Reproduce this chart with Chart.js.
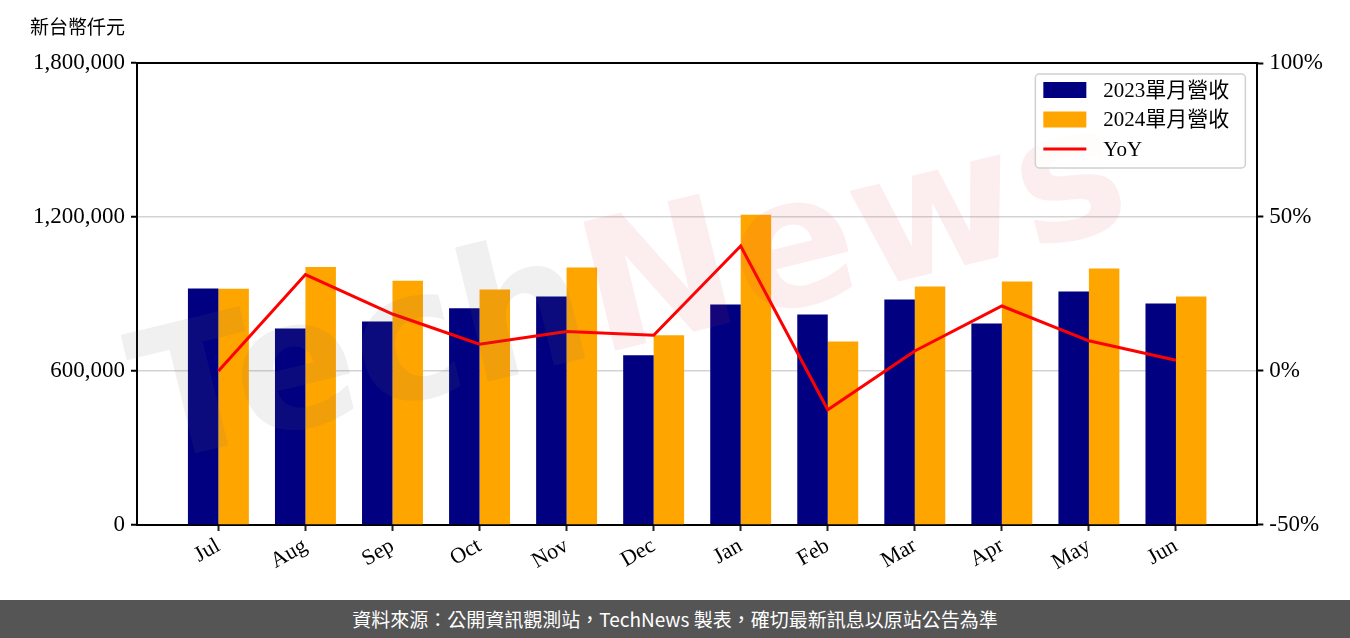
<!DOCTYPE html>
<html>
<head>
<meta charset="utf-8">
<script src="https://cdn.jsdelivr.net/npm/chart.js@4"></script>
<style>
  html, body { margin: 0; padding: 0; background: #fff; }
  #wrap { width: 1350px; height: 600px; position: relative; }
  #footer {
    width: 1350px; height: 38px; background: #555555; color: #fff;
    font-family: 'Noto Sans CJK TC', sans-serif; font-size: 19px;
    line-height: 38px; text-align: center;
  }
</style>
</head>
<body>
<div id="wrap"><canvas id="revChart" width="1350" height="600"></canvas></div>
<div id="footer">資料來源：公開資訊觀測站，TechNews 製表，確切最新訊息以原站公告為準</div>
<script>
// Chart data
const months = ['Jul', 'Aug', 'Sep', 'Oct', 'Nov', 'Dec', 'Jan', 'Feb', 'Mar', 'Apr', 'May', 'Jun'];
const rev2023 = [921000, 766000, 793000, 844000, 890000, 661000, 859000, 820000, 879000, 785000, 910000, 863000];
const rev2024 = [920000, 1005000, 952000, 917000, 1003000, 739000, 1209000, 715000, 929000, 949000, 999000, 890000];
const yoy = [0.0, 31.3, 18.5, 8.7, 12.8, 11.6, 40.6, -12.6, 6.5, 21.1, 9.8, 3.5];
const leftTicks = [0, 600000, 1200000, 1800000];
const rightTicks = [-50, 0, 50, 100];

const serif = "'Liberation Serif', 'Noto Sans CJK TC', serif";
Chart.defaults.color = '#000';

const toPoints = arr => arr.map((v, i) => ({ x: i, y: v }));

// unit label, top frame line, legend box and watermark
const extras = {
    id: 'extras',
    afterDatasetsDraw(chart) {
        const { ctx, chartArea } = chart;
        ctx.save();
        ctx.translate(chartArea.left + 495, chartArea.top + 235);
        ctx.rotate(-0.24);
        ctx.font = "bold 182px 'DejaVu Sans'";
        ctx.textBaseline = 'middle';
        const w1 = ctx.measureText('Tech').width;
        const w2 = ctx.measureText('News').width;
        const x0 = -(w1 + w2) / 2;
        ctx.fillStyle = 'rgba(110, 110, 110, 0.10)';
        ctx.fillText('Tech', x0, 0);
        ctx.fillStyle = 'rgba(220, 60, 80, 0.09)';
        ctx.fillText('News', x0 + w1, 0);
        ctx.restore();
    },
    afterDraw(chart) {
        const { ctx, chartArea } = chart;
        ctx.save();
        // top frame
        ctx.strokeStyle = '#000';
        ctx.lineWidth = 2;
        ctx.beginPath();
        ctx.moveTo(chartArea.left - 1, chartArea.top);
        ctx.lineTo(chartArea.right + 1, chartArea.top);
        ctx.stroke();

        // unit
        ctx.font = "19px 'Noto Sans CJK TC'";
        ctx.fillStyle = '#000';
        ctx.textBaseline = 'middle';
        ctx.fillText('新台幣仟元', 30, 27);

        // legend
        const lx = chartArea.right - 222, ly = chartArea.top + 11;
        const lw = 210, lh = 94;
        ctx.fillStyle = 'rgba(255,255,255,0.8)';
        ctx.strokeStyle = '#d0d0d0';
        ctx.lineWidth = 1.5;
        ctx.beginPath();
        ctx.roundRect(lx, ly, lw, lh, 4);
        ctx.fill();
        ctx.stroke();
        ctx.font = '21px ' + serif;
        chart.data.datasets.forEach((ds, i) => {
            const cy = ly + 16 + i * 29.5;
            if (ds.type === 'line') {
                ctx.strokeStyle = ds.borderColor;
                ctx.lineWidth = 3;
                ctx.beginPath();
                ctx.moveTo(lx + 8, cy);
                ctx.lineTo(lx + 51, cy);
                ctx.stroke();
            } else {
                ctx.fillStyle = ds.backgroundColor;
                ctx.fillRect(lx + 8, cy - 8, 43, 16);
            }
            ctx.fillStyle = '#000';
            ctx.fillText(ds.label, lx + 68, cy + 1);
        });
        ctx.restore();
    }
};

new Chart(document.getElementById('revChart'), {
    type: 'bar',
    data: {
        datasets: [
            {
                label: '2023單月營收',
                data: toPoints(rev2023),
                backgroundColor: '#000080',
                yAxisID: 'y',
                order: 2
            },
            {
                label: '2024單月營收',
                data: toPoints(rev2024),
                backgroundColor: '#FFA500',
                yAxisID: 'y',
                order: 2
            },
            {
                type: 'line',
                label: 'YoY',
                data: toPoints(yoy),
                borderColor: '#FF0000',
                borderWidth: 3,
                pointRadius: 0,
                tension: 0,
                yAxisID: 'y1',
                order: 1
            }
        ]
    },
    options: {
        responsive: false,
        animation: false,
        categoryPercentage: 0.7,
        barPercentage: 1.0,
        layout: { padding: { left: 27, right: 21, top: 63, bottom: 22 } },
        plugins: {
            legend: { display: false },
            tooltip: { enabled: false }
        },
        scales: {
            x: {
                type: 'linear',
                offset: false,
                min: -0.935,
                max: 11.935,
                afterBuildTicks: scale => {
                    scale.ticks = months.map((m, i) => ({ value: i }));
                },
                ticks: {
                    callback: v => months[v],
                    font: { family: serif, size: 22 },
                    minRotation: 30,
                    maxRotation: 30,
                    padding: 2
                },
                grid: {
                    offset: false,
                    drawOnChartArea: false,
                    tickLength: 6,
                    tickColor: '#222',
                    tickWidth: 2
                },
                border: { color: '#000', width: 2 }
            },
            y: {
                position: 'left',
                min: 0,
                max: 1800000,
                afterBuildTicks: scale => {
                    scale.ticks = leftTicks.map(v => ({ value: v }));
                },
                ticks: {
                    callback: v => v.toLocaleString('en-US'),
                    font: { family: serif, size: 23 },
                    padding: 6
                },
                grid: {
                    color: '#d3d3d3',
                    lineWidth: 1.5,
                    tickLength: 6,
                    tickColor: '#000',
                    tickWidth: 2
                },
                border: { color: '#000', width: 2 }
            },
            y1: {
                position: 'right',
                min: -50,
                max: 100,
                afterBuildTicks: scale => {
                    scale.ticks = rightTicks.map(v => ({ value: v }));
                },
                ticks: {
                    callback: v => v + '%',
                    font: { family: serif, size: 23 },
                    padding: 6
                },
                grid: {
                    drawOnChartArea: false,
                    tickLength: 6,
                    tickColor: '#000',
                    tickWidth: 2
                },
                border: { color: '#000', width: 2 }
            }
        }
    },
    plugins: [extras]
});
</script>
</body>
</html>
